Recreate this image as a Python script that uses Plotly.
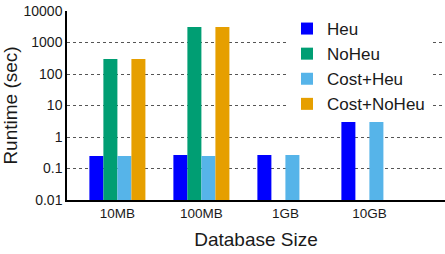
import plotly.graph_objects as go

categories = ["10MB", "100MB", "1GB", "10GB"]
heu = [0.25, 0.27, 0.27, 3.0]
noheu = [300, 3100, None, None]
cost_heu = [0.25, 0.25, 0.27, 3.0]
cost_noheu = [300, 3100, None, None]
y_ticks = [0.01, 0.1, 1, 10, 100, 1000, 10000]
y_tick_labels = ["0.01", "0.1", "1", "10", "100", "1000", "10000"]

series = [
    ("Heu", heu, "#0000FF"),
    ("NoHeu", noheu, "#009E73"),
    ("Cost+Heu", cost_heu, "#56B4E9"),
    ("Cost+NoHeu", cost_noheu, "#E69F00"),
]

fig = go.Figure()
for name, vals, color in series:
    fig.add_trace(go.Bar(x=categories, y=vals, name=name,
                         marker=dict(color=color, line=dict(width=0))))

font = "Liberation Sans, Arial, sans-serif"
fig.update_layout(
    width=445, height=254,
    margin=dict(l=67, r=0, t=11, b=54),
    paper_bgcolor="white", plot_bgcolor="white",
    barmode="group", bargap=0.333, bargroupgap=0,
    font=dict(family=font, color="#1a1a1a"),
    showlegend=True,
    legend=dict(x=0.582, y=1.0, xanchor="left", yanchor="top",
                bgcolor="white", borderwidth=0,
                font=dict(size=17, family=font, color="#1a1a1a"),
                itemwidth=30, tracegroupgap=0),
    xaxis=dict(
        type="category", range=[-0.6, 3.9], automargin=False,
        showline=True, linecolor="black", linewidth=1.5,
        ticks="", showgrid=False,
        tickfont=dict(size=13.5, family=font),
        title=dict(text="Database Size", font=dict(size=19, family=font), standoff=13),
    ),
    yaxis=dict(
        type="log", range=[-2, 4], automargin=False,
        tickvals=y_ticks, ticktext=y_tick_labels,
        showline=True, linecolor="black", linewidth=1.5,
        ticks="", showgrid=True, gridcolor="#555555", griddash="dot", gridwidth=1,
        zeroline=False,
        tickfont=dict(size=14, family=font),
        title=dict(text="Runtime (sec)", font=dict(size=19, family=font), standoff=4),
    ),
)

fig.write_html("out.html", config={"displayModeBar": False},
               post_script="document.body.style.margin='0';")
